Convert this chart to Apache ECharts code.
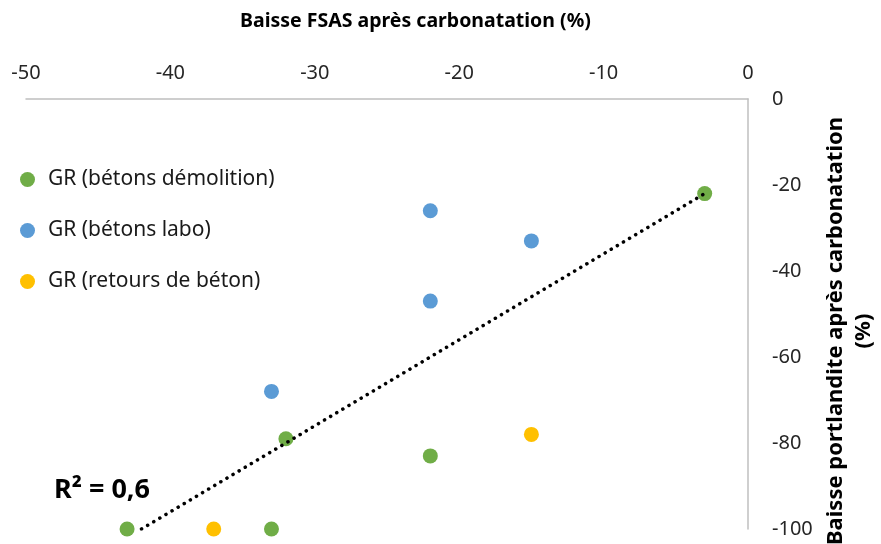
<!DOCTYPE html>
<html>
<head>
<meta charset="utf-8">
<script src="https://cdn.jsdelivr.net/npm/echarts@6/dist/echarts.min.js"></script>
<style>
  html, body { margin: 0; padding: 0; background: #fff; }
  #chart { width: 881px; height: 544px; }
</style>
</head>
<body>
<div id="chart"></div>
<script>
// Baisse FSAS (x) vs baisse portlandite (y), both in % after carbonatation
const seriesNames = ['GR (bétons démolition)', 'GR (bétons labo)', 'GR (retours de béton)'];
const demolitionX = [-3, -43, -33, -32, -22];
const demolitionY = [-22, -100, -100, -79, -83];
const laboX = [-22, -15, -22, -33];
const laboY = [-26, -33, -47, -68];
const retoursX = [-37, -15];
const retoursY = [-100, -78];
// Linear trend line endpoints (R² = 0,6)
const trendX = [-42, -3];
const trendY = [-100, -22];
const xTicks = [-50, -40, -30, -20, -10, 0];
const yTicks = [0, -20, -40, -60, -80, -100];

const colors = ['#70AD47', '#5B9BD5', '#FFC000'];
const FONT = 'Noto Sans';

const pairs = (xs, ys) => xs.map((x, i) => [x, ys[i]]);

const chart = echarts.init(document.getElementById('chart'), null, { renderer: 'canvas' });

chart.setOption({
  animation: false,
  backgroundColor: '#ffffff',
  textStyle: { fontFamily: FONT },
  grid: { left: 26, right: 133, top: 99, bottom: 15, containLabel: false },
  xAxis: {
    type: 'value', position: 'top',
    min: xTicks[0], max: xTicks[xTicks.length - 1], interval: 10,
    axisLine: { onZero: false, lineStyle: { color: '#BFBFBF', width: 1.5 } },
    axisTick: { show: false },
    splitLine: { show: false },
    axisLabel: { color: '#262626', fontSize: 20, fontFamily: FONT, margin: 16 }
  },
  yAxis: {
    type: 'value', position: 'right',
    min: yTicks[yTicks.length - 1], max: yTicks[0], interval: 20,
    axisLine: { show: true, onZero: false, lineStyle: { color: '#BFBFBF', width: 1.5 } },
    axisTick: { show: false },
    splitLine: { show: false },
    axisLabel: { color: '#262626', fontSize: 20, fontFamily: FONT, margin: 24, align: 'left' }
  },
  legend: {
    data: seriesNames,
    orient: 'vertical',
    left: 15, top: 164,
    itemWidth: 15, itemHeight: 15, itemGap: 30,
    icon: 'circle',
    textStyle: { fontSize: 21, color: '#1a1a1a', fontFamily: FONT, padding: [0, 0, 0, 8] }
  },
  graphic: [
    {
      type: 'text', left: 240, top: 11,
      style: { text: 'Baisse FSAS après carbonatation (%)', fontSize: 19.5, fontWeight: 'bold', fontFamily: FONT, fill: '#000' }
    },
    {
      type: 'text', x: 850, y: 331, rotation: Math.PI / 2,
      style: {
        text: 'Baisse portlandite après carbonatation\n(%)',
        fontSize: 22, fontWeight: 'bold', fontFamily: FONT, fill: '#000',
        align: 'center', verticalAlign: 'middle', lineHeight: 28
      }
    },
    {
      type: 'text', left: 54, top: 477,
      style: { text: 'R² = 0,6', fontSize: 27, fontWeight: 'bold', fontFamily: FONT, fill: '#000' }
    }
  ],
  series: [
    { name: seriesNames[0], type: 'scatter', symbolSize: 15, itemStyle: { color: colors[0], opacity: 1 }, data: pairs(demolitionX, demolitionY), z: 2 },
    { name: seriesNames[1], type: 'scatter', symbolSize: 15, itemStyle: { color: colors[1], opacity: 1 }, data: pairs(laboX, laboY), z: 2 },
    { name: seriesNames[2], type: 'scatter', symbolSize: 15, itemStyle: { color: colors[2], opacity: 1 }, data: pairs(retoursX, retoursY), z: 2 },
    {
      name: 'Linéaire (GR (bétons démolition))', type: 'line', showSymbol: false, silent: true, z: 3,
      lineStyle: { color: '#000', width: 3.5, type: [0.1, 7], cap: 'round' },
      data: pairs(trendX, trendY)
    }
  ]
});
</script>
</body>
</html>
